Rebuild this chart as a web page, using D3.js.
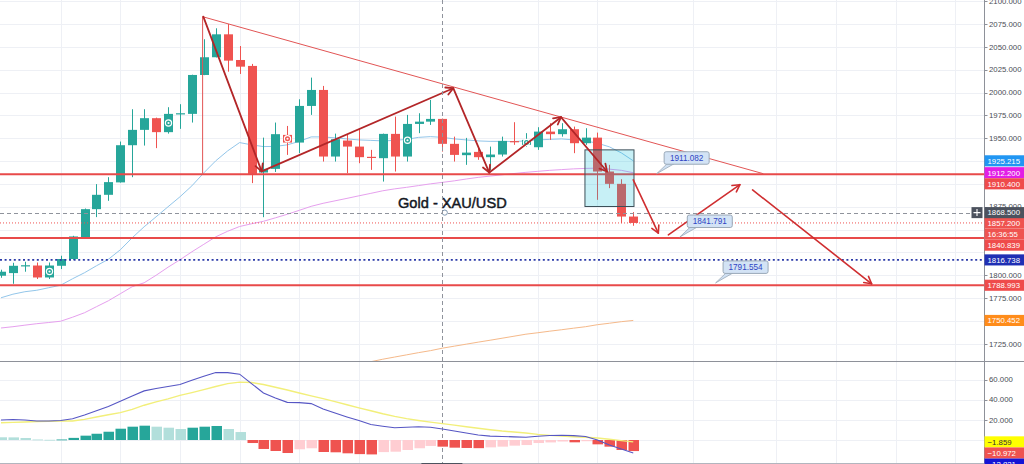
<!DOCTYPE html>
<html>
<head>
<meta charset="utf-8">
<script src="https://cdn.jsdelivr.net/npm/d3@7"></script>
<style>
  html, body { margin: 0; padding: 0; background: #ffffff; overflow: hidden; }
  svg { display: block; }
  text { font-family: "Liberation Sans", Arial, sans-serif; }
</style>
</head>
<body>
<svg id="chart" width="1024" height="464"></svg>
<script>
// ---- Daily XAU/USD candles ----
const opens  = [1799.4,1802.3,1810.3,1810.6,1797.5,1810.3,1817.7,1841.7,1872.3,1888.0,1901.6,1942.3,1959.1,1971.9,1956.6,1976.3,1976.6,2019.2,2038.6,2063.7,2035.6,2029.1,1912.4,1916.4,1953.6,1945.2,1985.3,2002.8,1929.9,1947.4,1940.8,1929.6,1928.1,1954.7,1929.9,1965.6,1968.1,1971.1,1943.8,1931.4,1935.0,1929.2,1932.1,1946.8,1942.7,1940.1,1957.2,1954.4,1959.8,1944.5,1950.6,1913.5,1900.0,1864.2];
const highs  = [1806.0,1813.6,1814.7,1813.9,1813.9,1821.3,1843.1,1873.0,1899.7,1907.3,1946.3,1981.7,1981.7,1972.5,1983.9,1987.2,2019.5,2058.3,2070.3,2075.0,2050.9,2031.3,1950.6,1967.1,1963.4,1992.6,2016.3,2007.2,1955.0,1953.6,1960.9,1937.2,1955.0,1973.6,1975.5,1977.3,1991.9,1971.5,1951.7,1950.3,1940.8,1940.8,1951.7,1967.5,1955.5,1962.0,1966.4,1966.4,1962.7,1960.9,1956.1,1920.8,1905.1,1869.1];
const lows   = [1797.2,1790.6,1803.8,1795.8,1795.8,1806.7,1816.9,1841.7,1863.6,1881.4,1901.4,1907.3,1941.9,1939.1,1955.0,1960.2,1967.1,2019.0,2038.4,2022.8,2020.3,1900.8,1863.5,1913.0,1931.7,1933.6,1975.5,1924.4,1924.4,1911.7,1922.6,1915.3,1902.5,1913.5,1924.4,1955.5,1964.5,1935.3,1924.4,1920.8,1926.3,1915.0,1929.9,1942.7,1940.8,1937.2,1948.1,1951.7,1933.6,1942.7,1882.5,1895.3,1857.0,1854.1];
const closes = [1803.8,1810.3,1810.9,1797.5,1810.6,1817.7,1842.4,1872.3,1888.0,1901.9,1942.3,1959.1,1971.9,1956.6,1976.6,1977.3,2019.2,2038.6,2063.7,2034.9,2028.3,1910.9,1916.4,1954.4,1945.2,1985.3,2002.8,1929.9,1948.9,1940.8,1929.2,1929.0,1954.7,1929.9,1965.6,1968.1,1971.1,1943.8,1931.7,1934.2,1929.2,1932.1,1947.0,1945.9,1948.1,1957.2,1954.4,1959.8,1944.5,1950.6,1913.5,1900.0,1864.2,1857.2];

// ---- Moving averages ----
const maFast = [1775.3,1779.2,1781.9,1783.5,1786.3,1789.0,1796.1,1802.7,1810.3,1817.4,1827.8,1841.0,1853.0,1863.9,1874.9,1885.8,1897.8,1912.0,1925.2,1936.1,1945.2,1942.7,1940.8,1941.0,1942.7,1946.5,1951.4,1951.4,1950.3,1949.2,1948.1,1947.6,1947.0,1947.6,1948.7,1950.9,1951.7,1950.9,1949.2,1948.1,1947.0,1946.5,1946.5,1946.3,1947.0,1948.1,1948.7,1949.2,1948.1,1947.0,1944.5,1940.5,1933.9,1925.215];
const maMid  = [1742.2,1743.6,1745.3,1746.9,1748.2,1749.6,1754.0,1758.9,1765.5,1772.0,1779.7,1787.4,1791.7,1799.9,1808.7,1816.9,1825.6,1833.8,1842.0,1848.1,1853.3,1856.3,1859.0,1862.8,1866.7,1871.0,1875.4,1878.7,1881.4,1884.1,1886.9,1889.6,1892.4,1894.5,1896.2,1898.1,1900.0,1901.6,1903.3,1905.3,1907.1,1908.5,1909.9,1911.3,1912.6,1913.7,1914.8,1915.6,1916.4,1916.9,1917.2,1916.1,1914.8,1912.2];
const maSlowFirstBar = 30;
const maSlow = [1703.0,1705.3,1708.0,1710.4,1712.8,1715.2,1717.4,1720.1,1722.3,1724.5,1726.7,1728.8,1731.0,1733.2,1735.4,1737.0,1738.7,1740.3,1742.0,1743.6,1745.8,1747.4,1749.1,1750.452];

// ---- MACD ----
const macdLine   = [19.8,20.3,19.8,18.8,18.8,19.3,21.0,24.8,29.0,33.2,38.4,43.6,48.7,51.0,53.0,55.1,59.2,63.2,67.0,66.8,65.3,55.9,46.7,41.6,37.3,37.1,36.1,30.7,26.7,22.9,19.3,15.3,13.7,12.2,12.6,13.1,12.7,10.9,8.9,6.9,5.0,3.8,3.5,3.1,2.8,3.7,4.5,4.7,4.3,3.5,0.0,-5.0,-8.9,-12.821];
const signalLine = [17.1,17.5,17.9,18.3,18.6,18.8,18.9,20.5,22.8,25.0,27.2,30.4,34.5,37.8,40.8,44.2,47.0,50.0,53.1,55.9,57.4,57.0,55.0,52.3,49.6,46.6,43.8,41.0,38.0,35.0,31.9,29.0,26.0,23.4,21.2,19.4,17.7,16.2,14.8,13.2,11.7,10.2,8.9,7.9,6.9,5.6,4.6,3.8,3.2,2.7,2.0,0.8,-0.6,-1.859];
const histogram  = [2.7,2.6,2.0,0.5,0.2,0.5,2.1,4.3,6.2,8.2,11.2,13.2,14.2,13.2,12.2,10.9,12.2,13.2,13.9,10.9,7.9,-3.0,-8.9,-10.9,-12.9,-9.2,-8.2,-11.9,-12.2,-13.2,-14.0,-14.3,-12.0,-11.6,-9.9,-8.2,-5.9,-6.6,-7.6,-7.9,-8.1,-7.3,-6.6,-5.6,-5.0,-3.0,-2.4,-1.5,-2.3,-1.2,-4.3,-6.6,-9.9,-10.972];

// ---- Axes ----
const priceTicks = [2100, 2075, 2050, 2025, 2000, 1975, 1950, 1875, 1800, 1775, 1725];
const priceGrid  = [1700,1725,1750,1775,1800,1825,1850,1875,1900,1925,1950,1975,2000,2025,2050,2075,2100];
const macdTicks  = [60, 40, 20];
const macdGrid   = [60, 40, 20, 0];
const timeGridBars = [5, 10, 15, 20, 25, 30, 45, 50, 58, 65, 70, 75, 80];

// ---- Levels and drawings ----
const supportLevels = [1910.4, 1840.839, 1788.993];
const trendLevel = 1816.738;
const crosshairBar = 37, crosshairPrice = 1868.5;
const countdownText = "16:36:55";
const markerBars = [4, 14, 24, 34, 44];
const zigzagPoints = [[16.96, 2083.0], [21.85, 1913.7], [37.91, 2004.7], [40.93, 1912.4], [46.94, 1973.0], [50.80, 1913.5]];
const projectionArrows = [
  [[53.0, 1904.4], [55.1, 1846.1]],
  [[55.94, 1844.2], [61.94, 1899.1]],
  [[63.0, 1893.4], [72.98, 1790.6]]
];
const triangleApex = [16.9, 2083.0];
const triangleRight = [63.9, 1911.1];
const triangleBaseLeft = [16.9, 1911.1];
const highlightBox = [[48.95, 1937.2], [53.06, 1875.2]];
const calloutBars   = [54.96, 56.9, 59.9];
const calloutPrices = [1911.082, 1841.791, 1791.554];
const titleText = "Gold - XAU/USD";
const titleAnchor = [33.28, 1873.8];

// ---- Layout ----
const W = 1024, H = 464, axisX = 984, paneSplit = 361;
const UP = "#26a69a", DOWN = "#ef5350";

const svg = d3.select("#chart");
const x  = d3.scaleLinear().domain([0, 82.4]).range([1, axisX]);
const y  = d3.scaleLinear().domain([1725, 2075]).range([343.7, 24]);
const ym = d3.scaleLinear().domain([0, 60]).range([440, 379.5]);

const defs = svg.append("defs");
defs.append("clipPath").attr("id", "clipMain")
  .append("rect").attr("x", 0).attr("y", 0).attr("width", axisX).attr("height", paneSplit);
defs.append("clipPath").attr("id", "clipMacd")
  .append("rect").attr("x", 0).attr("y", paneSplit + 1).attr("width", axisX).attr("height", H - paneSplit);

svg.append("rect").attr("width", W).attr("height", H).attr("fill", "#ffffff");

// grid
const grid = svg.append("g").attr("shape-rendering", "crispEdges").attr("stroke", "#eef0f5").attr("stroke-width", 1);
grid.selectAll(".hg").data(priceGrid).join("line")
  .attr("x1", 0).attr("x2", axisX)
  .attr("y1", d => Math.round(y(d)) + 0.5).attr("y2", d => Math.round(y(d)) + 0.5)
  .attr("clip-path", "url(#clipMain)");
grid.selectAll(".mg").data(macdGrid).join("line")
  .attr("x1", 0).attr("x2", axisX)
  .attr("y1", d => Math.round(ym(d)) + 0.5).attr("y2", d => Math.round(ym(d)) + 0.5);
grid.selectAll(".vg").data(timeGridBars).join("line")
  .attr("x1", d => Math.round(x(d)) + 0.5).attr("x2", d => Math.round(x(d)) + 0.5)
  .attr("y1", 0).attr("y2", H);

// ---- main pane ----
const main = svg.append("g").attr("clip-path", "url(#clipMain)");

// moving averages
const lineFull = arr => d3.line().x((d, i) => x(i)).y(d => y(d))(arr);
main.append("path").attr("d", d3.line().x((d, i) => x(i + maSlowFirstBar)).y(d => y(d))(maSlow))
  .attr("fill", "none").attr("stroke", "#f5b98a").attr("stroke-width", 1);
main.append("path").attr("d", lineFull(maMid))
  .attr("fill", "none").attr("stroke", "#e6a0ee").attr("stroke-width", 1);
main.append("path").attr("d", lineFull(maFast))
  .attr("fill", "none").attr("stroke", "#93c6ea").attr("stroke-width", 1);

// candles
const candles = main.append("g");
closes.forEach((c, i) => {
  const o = opens[i], col = c >= o ? UP : DOWN;
  const cx = Math.round(x(i));
  candles.append("line")
    .attr("x1", cx + 0.5).attr("x2", cx + 0.5)
    .attr("y1", y(highs[i])).attr("y2", y(lows[i]))
    .attr("stroke", col).attr("stroke-width", 1);
  const top = y(Math.max(o, c)), bot = y(Math.min(o, c));
  candles.append("rect")
    .attr("x", cx - 4).attr("width", 9)
    .attr("y", top).attr("height", Math.max(1.2, bot - top))
    .attr("fill", col);
});
// event rings on candles
markerBars.forEach(i => {
  const cx = Math.round(x(i)) + 0.5, cy = y((opens[i] + closes[i]) / 2);
  main.append("circle").attr("cx", cx).attr("cy", cy).attr("r", 3.1)
    .attr("fill", "none").attr("stroke", "#ffffff").attr("stroke-width", 1.2);
  main.append("circle").attr("cx", cx).attr("cy", cy).attr("r", 1.1).attr("fill", "#ffffff");
});

// horizontal level lines
main.selectAll(".lvl").data(supportLevels).join("line")
  .attr("x1", 0).attr("x2", axisX)
  .attr("y1", d => y(d)).attr("y2", d => y(d))
  .attr("stroke", "#e84a4a").attr("stroke-width", 2);

// current price / trend lines
main.append("line").attr("x1", 0).attr("x2", axisX)
  .attr("y1", y(closes[closes.length - 1])).attr("y2", y(closes[closes.length - 1]))
  .attr("stroke", "#ef5350").attr("stroke-width", 1).attr("stroke-dasharray", "1,2");
main.append("line").attr("x1", 0).attr("x2", axisX)
  .attr("y1", y(trendLevel)).attr("y2", y(trendLevel))
  .attr("stroke", "#2b3aa8").attr("stroke-width", 1.6).attr("stroke-dasharray", "2,2.6");

// triangle
main.append("path")
  .attr("d", `M${x(triangleBaseLeft[0])},${y(triangleBaseLeft[1])}L${x(triangleApex[0])},${y(triangleApex[1])}L${x(triangleRight[0])},${y(triangleRight[1])}`)
  .attr("fill", "none").attr("stroke", "#e25555").attr("stroke-width", 1);

// highlight box
main.append("rect")
  .attr("x", x(highlightBox[0][0])).attr("y", y(highlightBox[0][1]))
  .attr("width", x(highlightBox[1][0]) - x(highlightBox[0][0]))
  .attr("height", y(highlightBox[1][1]) - y(highlightBox[0][1]))
  .attr("fill", "#00bcd4").attr("fill-opacity", 0.22)
  .attr("stroke", "#3d4f58").attr("stroke-width", 1);

// arrows
function arrow(g, p0, p1, color, width) {
  const x0 = x(p0[0]), y0 = y(p0[1]), x1 = x(p1[0]), y1 = y(p1[1]);
  g.append("line").attr("x1", x0).attr("y1", y0).attr("x2", x1).attr("y2", y1)
    .attr("stroke", color).attr("stroke-width", width).attr("stroke-linecap", "round");
  const a = Math.atan2(y1 - y0, x1 - x0), len = 8, spread = 0.5;
  const h = [a + Math.PI - spread, a + Math.PI + spread].map(t => [x1 + len * Math.cos(t), y1 + len * Math.sin(t)]);
  g.append("path").attr("d", `M${h[0][0]},${h[0][1]}L${x1},${y1}L${h[1][0]},${h[1][1]}`)
    .attr("fill", "none").attr("stroke", color).attr("stroke-width", width)
    .attr("stroke-linecap", "round").attr("stroke-linejoin", "round");
}
const arrows = main.append("g");
for (let k = 1; k < zigzagPoints.length; k++) arrow(arrows, zigzagPoints[k - 1], zigzagPoints[k], "#b32628", 1.8);
projectionArrows.forEach(seg => arrow(arrows, seg[0], seg[1], "#cf2e30", 1.6));

// callouts
calloutPrices.forEach((p, k) => {
  const ax = x(calloutBars[k]), ay = y(p);
  const bx = ax + 7.5, by = ay - 22, bw = 45, bh = 12.5;
  const g = main.append("g");
  g.append("path").attr("d", `M${ax},${ay}L${bx + 3},${by + bh - 0.5}L${bx + 10},${by + bh - 0.5}Z`)
    .attr("fill", "#cfe0f3").attr("stroke", "#9aa9b8").attr("stroke-width", 0.8);
  g.append("rect").attr("x", bx).attr("y", by).attr("width", bw).attr("height", bh).attr("rx", 2)
    .attr("fill", "#d3e3f5").attr("stroke", "#9aa9b8").attr("stroke-width", 1);
  g.append("text").attr("x", bx + bw / 2).attr("y", by + 9.2).attr("text-anchor", "middle")
    .attr("font-size", 8.2).attr("fill", "#2f45c4").text(d3.format(".3f")(p));
});

// crosshair
main.append("line").attr("x1", 0).attr("x2", 970)
  .attr("y1", Math.round(y(crosshairPrice)) + 0.5).attr("y2", Math.round(y(crosshairPrice)) + 0.5)
  .attr("stroke", "#8f939c").attr("stroke-width", 1).attr("stroke-dasharray", "4,3");
svg.append("line").attr("x1", Math.round(x(crosshairBar)) + 0.5).attr("x2", Math.round(x(crosshairBar)) + 0.5)
  .attr("y1", 0).attr("y2", H)
  .attr("stroke", "#8f939c").attr("stroke-width", 1).attr("stroke-dasharray", "4,3");

// title text
main.append("text").attr("x", x(titleAnchor[0])).attr("y", y(titleAnchor[1]))
  .attr("font-size", 14.6).attr("fill", "#131722")
  .attr("stroke", "#131722").attr("stroke-width", 0.45).text(titleText);
main.append("circle").attr("cx", x(crosshairBar + 0.2)).attr("cy", y(crosshairPrice)).attr("r", 2.6)
  .attr("fill", "#ffffff").attr("stroke", "#7f97b0").attr("stroke-width", 1);

// ---- MACD pane ----
const macd = svg.append("g").attr("clip-path", "url(#clipMacd)");
histogram.forEach((v, i) => {
  const prev = i > 0 ? histogram[i - 1] : Infinity;
  const col = v >= 0 ? (v > prev ? "#26a69a" : "#b2dfdb") : (v < prev ? "#ef5350" : "#ffcdd2");
  const y0 = ym(Math.max(v, 0)), y1 = ym(Math.min(v, 0));
  macd.append("rect").attr("x", Math.round(x(i)) - 4.5).attr("width", 10.5)
    .attr("y", y0).attr("height", Math.max(0.8, y1 - y0)).attr("fill", col);
});
const mline = d3.line().x((d, i) => x(i)).y(d => ym(d));
macd.append("path").attr("d", mline(signalLine)).attr("fill", "none").attr("stroke", "#f2ef7a").attr("stroke-width", 1.4);
macd.append("path").attr("d", mline(macdLine)).attr("fill", "none").attr("stroke", "#5656c4").attr("stroke-width", 1.1);

// pane separator and axis border
svg.append("line").attr("x1", 0).attr("x2", W).attr("y1", paneSplit + 0.5).attr("y2", paneSplit + 0.5)
  .attr("stroke", "#8e9199").attr("stroke-width", 1);
svg.append("line").attr("x1", axisX + 0.5).attr("x2", axisX + 0.5).attr("y1", 0).attr("y2", H)
  .attr("stroke", "#8e9199").attr("stroke-width", 1);
svg.append("line").attr("x1", 0).attr("x2", W).attr("y1", H - 0.5).attr("y2", H - 0.5)
  .attr("stroke", "#b2b5be").attr("stroke-width", 1);
svg.append("rect").attr("x", x(crosshairBar) - 21).attr("y", H - 1).attr("width", 41).attr("height", 1).attr("fill", "#4c525e");

// ---- right axis ----
const axis = svg.append("g").attr("font-size", 7.8);
function tick(v, sy) {
  axis.append("line").attr("x1", axisX).attr("x2", axisX + 3.5).attr("y1", Math.round(sy) + 0.5).attr("y2", Math.round(sy) + 0.5)
    .attr("stroke", "#8e9199");
  axis.append("text").attr("x", 989).attr("y", sy + 2.8).attr("fill", "#4a4d55").text(d3.format(".3f")(v));
}
priceTicks.forEach(v => tick(v, y(v)));
macdTicks.forEach(v => tick(v, ym(v)));

const LH = 11.1;
function stackLabels(list) {
  list.sort((a, b) => a.cy - b.cy);
  for (let k = 1; k < list.length; k++) if (list[k].cy < list[k - 1].cy + LH) list[k].cy = list[k - 1].cy + LH;
  return list;
}
function drawLabel(l) {
  axis.append("rect").attr("x", axisX + 0.5).attr("y", l.cy - LH / 2).attr("width", W - axisX).attr("height", LH).attr("fill", l.bg);
  axis.append("text").attr("x", 987.5).attr("y", l.cy + 2.8).attr("fill", l.fg).text(l.text);
}
const f3 = d3.format(".3f");
const lastClose = closes[closes.length - 1];
const priceLabels = stackLabels([
  { cy: y(maFast[maFast.length - 1]), bg: "#2196f3", fg: "#ffffff", text: f3(maFast[maFast.length - 1]) },
  { cy: y(maMid[maMid.length - 1]), bg: "#e21ee6", fg: "#ffffff", text: f3(maMid[maMid.length - 1]) },
  { cy: y(supportLevels[0]), bg: "#ef4b4b", fg: "#ffffff", text: f3(supportLevels[0]) },
  { cy: y(lastClose), bg: "#ef5350", fg: "#ffffff", text: f3(lastClose) },
  { cy: y(lastClose) + 0.01, bg: "#ef5350", fg: "#ffffff", text: countdownText },
  { cy: y(supportLevels[1]), bg: "#ef4b4b", fg: "#ffffff", text: f3(supportLevels[1]) },
  { cy: y(trendLevel), bg: "#1f2fb4", fg: "#ffffff", text: f3(trendLevel) },
  { cy: y(supportLevels[2]), bg: "#ef4b4b", fg: "#ffffff", text: f3(supportLevels[2]) },
  { cy: y(maSlow[maSlow.length - 1]), bg: "#ff8c1a", fg: "#ffffff", text: f3(maSlow[maSlow.length - 1]) }
]);
priceLabels.forEach(drawLabel);
const macdLabels = stackLabels([
  { cy: ym(signalLine[signalLine.length - 1]), bg: "#ffff00", fg: "#333333", text: f3(signalLine[signalLine.length - 1]) },
  { cy: ym(histogram[histogram.length - 1]), bg: "#ef5350", fg: "#ffffff", text: f3(histogram[histogram.length - 1]) },
  { cy: ym(macdLine[macdLine.length - 1]) + 0.01, bg: "#1414d6", fg: "#ffffff", text: f3(macdLine[macdLine.length - 1]) }
]);
macdLabels.forEach(drawLabel);

// crosshair price label and plus button
const chY = y(crosshairPrice);
drawLabel({ cy: chY, bg: "#4c525e", fg: "#ffffff", text: f3(crosshairPrice) });
axis.append("rect").attr("x", 971.5).attr("y", chY - 5.5).attr("width", 11).attr("height", 11).attr("fill", "#4c525e");
axis.append("path").attr("d", `M973.5,${chY}H980.5M977,${chY - 3.5}V${chY + 3.5}`)
  .attr("stroke", "#ffffff").attr("stroke-width", 1.1);
</script>
</body>
</html>
